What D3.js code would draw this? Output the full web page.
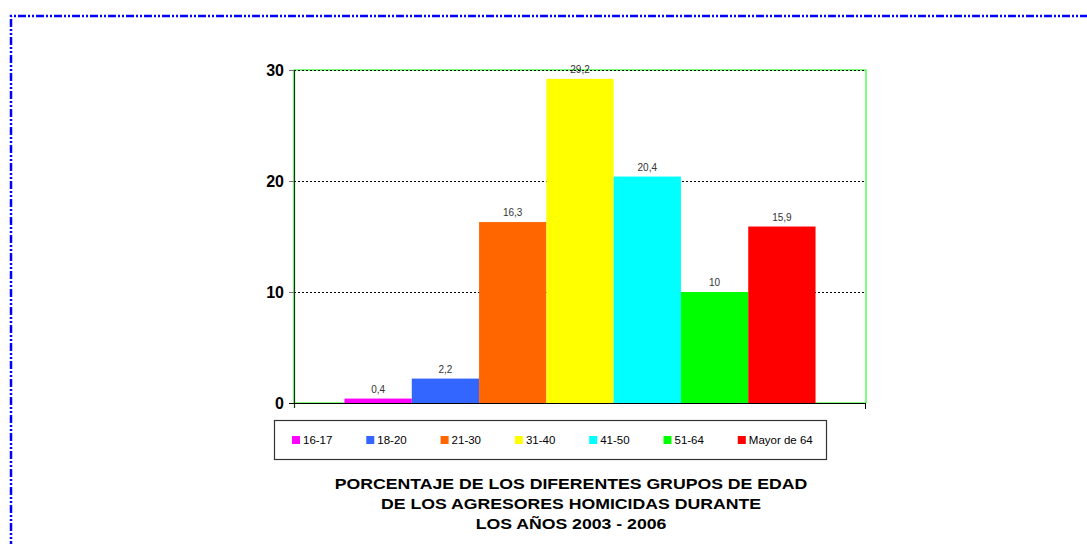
<!DOCTYPE html>
<html>
<head>
<meta charset="utf-8">
<script src="https://cdn.jsdelivr.net/npm/d3@7"></script>
<style>
  body { margin: 0; background: #fff; }
  svg { display: block; font-family: Arial, "Liberation Sans", sans-serif; }
</style>
</head>
<body>
<div class="board"></div>
<script>
// data
const groups = ["16-17", "18-20", "21-30", "31-40", "41-50", "51-64", "Mayor de 64"];
const values = [0.4, 2.2, 16.3, 29.2, 20.4, 10, 15.9];
const colors = ["#ff00ff", "#3366ff", "#ff6600", "#ffff00", "#00ffff", "#00ff00", "#ff0000"];
const yTicks = [0, 10, 20, 30];
const titleLines = [
  "PORCENTAJE DE LOS DIFERENTES GRUPOS DE EDAD",
  "DE LOS AGRESORES HOMICIDAS DURANTE",
  "LOS AÑOS 2003 - 2006"
];

const width = 1087;
const height = 544;
const plot = { left: 294, right: 866, top: 70, bottom: 403 };
const gapWidth = 1.5; // excel style gap, relative to one bar

const svg = d3.select(".board")
  .append("svg")
  .attr("width", width)
  .attr("height", height);

// page border (dash-dot-dot, blue)
svg.append("path")
  .attr("d", `M11,${height + 5} L11,16 L${width + 5},16`)
  .attr("fill", "none")
  .attr("stroke", "#0000ff")
  .attr("stroke-width", 2.5)
  .attr("stroke-dasharray", "8,2,2,2,2,2");

const y = d3.scaleLinear().domain([0, 30]).range([plot.bottom, plot.top]);

const plotW = plot.right - plot.left;
const barW = plotW / (groups.length + gapWidth);
const x = d3.scaleBand()
  .domain(groups)
  .range([plot.left + barW * gapWidth / 2, plot.right - barW * gapWidth / 2]);

// plot area border (green)
svg.append("rect")
  .attr("x", plot.left)
  .attr("y", plot.top)
  .attr("width", plotW)
  .attr("height", plot.bottom - plot.top)
  .attr("fill", "none")
  .attr("stroke", "#00ff00")
  .attr("stroke-width", 1);

// gridlines
svg.append("g")
  .selectAll("line")
  .data(yTicks.filter(d => d > 0))
  .enter()
  .append("line")
  .attr("x1", plot.left)
  .attr("x2", plot.right)
  .attr("y1", d => y(d) + 0.5)
  .attr("y2", d => y(d) + 0.5)
  .attr("stroke", "#000")
  .attr("stroke-width", 1)
  .attr("stroke-dasharray", "2,2");

// bars
svg.append("g")
  .selectAll("rect")
  .data(values)
  .enter()
  .append("rect")
  .attr("x", (d, i) => x(groups[i]))
  .attr("y", d => y(d))
  .attr("width", x.bandwidth())
  .attr("height", d => y(0) - y(d))
  .attr("fill", (d, i) => colors[i]);

// value labels
svg.append("g")
  .selectAll("text")
  .data(values)
  .enter()
  .append("text")
  .attr("x", (d, i) => x(groups[i]) + x.bandwidth() / 2)
  .attr("y", d => y(d) - 6)
  .attr("text-anchor", "middle")
  .attr("font-size", 10)
  .attr("fill", "#333")
  .text(d => String(d).replace(".", ","));

// y axis
const yAxis = d3.axisLeft(y)
  .tickValues(yTicks)
  .tickSize(5)
  .tickPadding(5);
const gy = svg.append("g")
  .attr("transform", `translate(${plot.left},0)`)
  .call(yAxis);
gy.select(".domain").attr("stroke", "#0b3d0b").attr("stroke-width", 1.2)
  .attr("d", `M0.5,${plot.top}V${plot.bottom + 5}`);
gy.selectAll(".tick line").attr("stroke", "#777");
gy.selectAll(".tick text")
  .attr("font-size", 16)
  .attr("font-weight", "bold")
  .attr("fill", "#000")
  .attr("font-family", "Arial, 'Liberation Sans', sans-serif");

// x axis baseline
svg.append("line")
  .attr("x1", plot.left - 5)
  .attr("x2", plot.right)
  .attr("y1", plot.bottom + 0.5)
  .attr("y2", plot.bottom + 0.5)
  .attr("stroke", "#000");
svg.append("line")
  .attr("x1", plot.right - 0.5)
  .attr("x2", plot.right - 0.5)
  .attr("y1", plot.bottom)
  .attr("y2", plot.bottom + 6)
  .attr("stroke", "#000");

// legend
const legend = svg.append("g");
legend.append("rect")
  .attr("x", 274.5)
  .attr("y", 420.5)
  .attr("width", 552)
  .attr("height", 39)
  .attr("fill", "#fff")
  .attr("stroke", "#333")
  .attr("stroke-width", 1.2);
const items = legend.selectAll("g.item")
  .data(groups)
  .enter()
  .append("g")
  .attr("class", "item")
  .attr("transform", (d, i) => `translate(${292 + i * 74.3},436)`);
items.append("rect")
  .attr("width", 8)
  .attr("height", 8)
  .attr("fill", (d, i) => colors[i]);
items.append("text")
  .attr("x", 11)
  .attr("y", 8)
  .attr("font-size", 11.5)
  .attr("fill", "#000")
  .text(d => d);

// title (slightly wide lettering, as in the original)
svg.append("g")
  .attr("transform", "translate(571,0) scale(1.14,1)")
  .selectAll("text")
  .data(titleLines)
  .enter()
  .append("text")
  .attr("x", 0)
  .attr("y", (d, i) => 489 + i * 20)
  .attr("text-anchor", "middle")
  .attr("font-size", 15.5)
  .attr("font-weight", "bold")
  .attr("fill", "#000")
  .text(d => d);
</script>
</body>
</html>
